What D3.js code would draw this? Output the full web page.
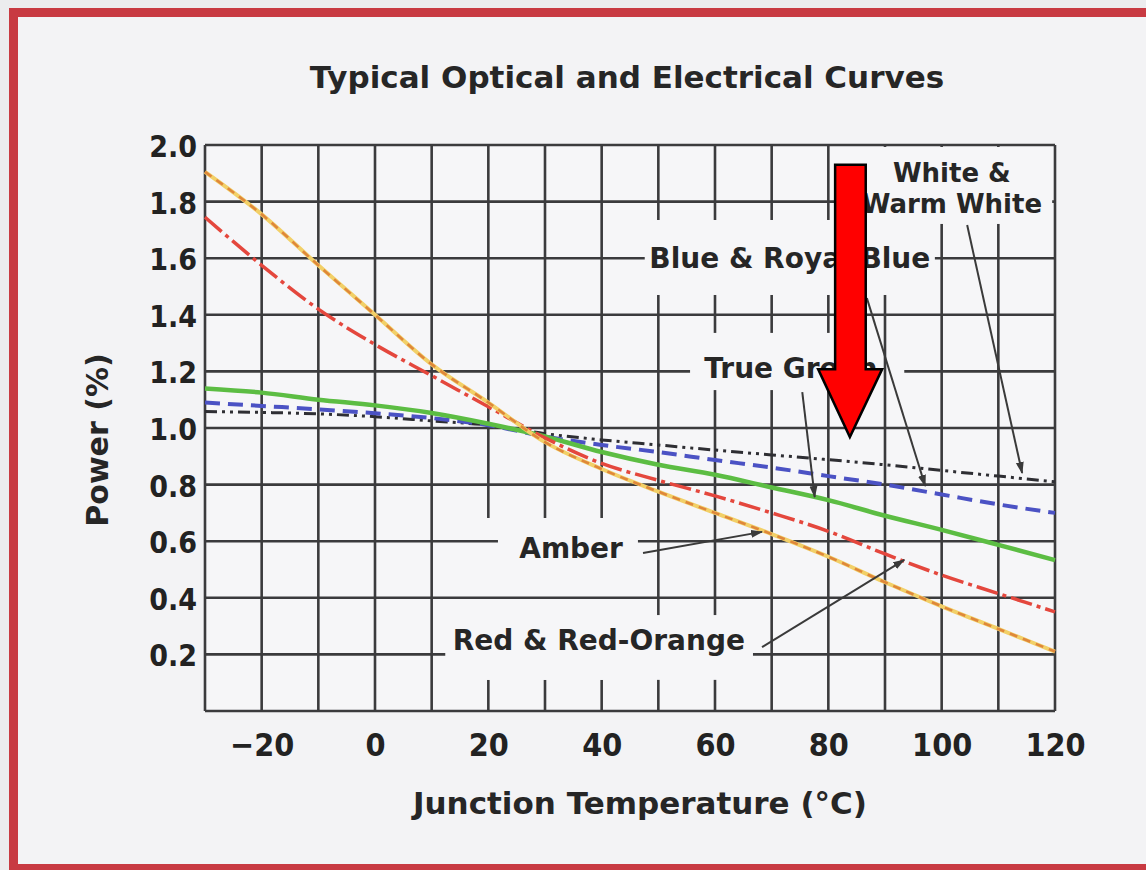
<!DOCTYPE html>
<html>
<head>
<meta charset="utf-8">
<script src="https://cdn.jsdelivr.net/npm/d3@7"></script>
<style>
  body { margin: 0; background: #f1f1f3; }
  .lbl { font-family: "DejaVu Sans", sans-serif; font-weight: bold; fill: #262626; }
  .tick text { font-family: "DejaVu Sans Condensed", "DejaVu Sans", sans-serif; font-weight: bold; fill: #222; font-stretch: condensed; }
</style>
</head>
<body>
<div id="chart"></div>
<script>
// temperatures (deg C) and relative power
var temps  = [-30, -20, -10, 0, 10, 20, 30, 40, 50, 60, 70, 80, 90, 100, 110, 120];
var amber  = [1.905, 1.755, 1.575, 1.40, 1.225, 1.09, 0.95, 0.855, 0.775, 0.70, 0.625, 0.545, 0.455, 0.37, 0.29, 0.21];
var red    = [1.745, 1.575, 1.42, 1.295, 1.185, 1.075, 0.965, 0.875, 0.815, 0.76, 0.70, 0.635, 0.555, 0.48, 0.415, 0.35];
var green  = [1.14, 1.125, 1.10, 1.08, 1.053, 1.015, 0.97, 0.915, 0.87, 0.835, 0.79, 0.745, 0.69, 0.64, 0.587, 0.533];
var blue   = [1.09, 1.078, 1.066, 1.052, 1.035, 1.01, 0.97, 0.94, 0.915, 0.887, 0.86, 0.83, 0.80, 0.765, 0.73, 0.70];
var white  = [1.058, 1.055, 1.05, 1.04, 1.025, 1.01, 0.98, 0.958, 0.94, 0.922, 0.905, 0.888, 0.87, 0.85, 0.83, 0.81];

var xTicks = [-20, 0, 20, 40, 60, 80, 100, 120];
var yTicks = [0.2, 0.4, 0.6, 0.8, 1.0, 1.2, 1.4, 1.6, 1.8, 2.0];
var xGrid  = [-30, -20, -10, 0, 10, 20, 30, 40, 50, 60, 70, 80, 90, 100, 110, 120];
var yGrid  = [0, 0.2, 0.4, 0.6, 0.8, 1.0, 1.2, 1.4, 1.6, 1.8, 2.0];

var svgWidth = 1146;
var svgHeight = 870;
var margin = {top: 145, right: 91, bottom: 159, left: 205};
var width = svgWidth - margin.left - margin.right;
var height = svgHeight - margin.top - margin.bottom;

var svg = d3.select("#chart")
  .append("svg")
  .attr("width", svgWidth)
  .attr("height", svgHeight);

// page + red frame of the scan
svg.append("rect").attr("width", svgWidth).attr("height", svgHeight).attr("fill", "#ececee");
svg.append("rect").attr("x", 14).attr("y", 12).attr("width", svgWidth).attr("height", 855).attr("fill", "#f3f3f5");
svg.append("rect").attr("x", 9).attr("y", 8).attr("width", svgWidth).attr("height", 9).attr("fill", "#c83a42");
svg.append("rect").attr("x", 9).attr("y", 8).attr("width", 9).attr("height", 862).attr("fill", "#c83a42");
svg.append("rect").attr("x", 9).attr("y", 864).attr("width", svgWidth).attr("height", 6).attr("fill", "#c83a42");

var x = d3.scaleLinear().domain([-30, 120]).range([0, width]);
var y = d3.scaleLinear().domain([0, 2]).range([height, 0]);

var g = svg.append("g").attr("transform", `translate(${margin.left}, ${margin.top})`);
g.append("rect").attr("width", width).attr("height", height).attr("fill", "#f6f6f8");

// labels with the gaps they cut in the grid (data coords)
var notes = [
  {lines: ["White &", "Warm White"], t: 101.8, p: 1.87, lh: 0.11, size: 26,
   vgap: [85.6, 119.5, 1.721, 1.993], hgap: [86.6, 119.5]},
  {lines: ["Blue & Royal Blue"], t: 73.2, p: 1.565,
   vgap: [46.8, 98.8, 1.47, 1.735], hgap: [47.6, 98.8]},
  {lines: ["True Green"], t: 73.4, p: 1.177,
   vgap: [55.6, 89.5, 1.134, 1.336], hgap: [55.6, 93.4]},
  {lines: ["Amber"], t: 34.6, p: 0.541,
   vgap: [16.8, 46.8, 0.11, 0.682], hgap: [21.7, 46.4]},
  {lines: ["Red & Red-Orange"], t: 39.5, p: 0.216,
   vgap: [11.5, 67.1, 0.11, 0.339], hgap: [12.4, 66.7]}
];
var hgapLevel = [1.8, 1.6, 1.2, 0.6, 0.2];

var defs = svg.append("defs");
var vm = defs.append("mask").attr("id", "vmask").attr("maskUnits", "userSpaceOnUse")
  .attr("x", -10).attr("y", -10).attr("width", width + 20).attr("height", height + 20);
vm.append("rect").attr("x", -10).attr("y", -10).attr("width", width + 20).attr("height", height + 20).attr("fill", "white");
notes.forEach(function(n) {
  vm.append("rect")
    .attr("x", x(n.vgap[0])).attr("width", x(n.vgap[1]) - x(n.vgap[0]))
    .attr("y", y(n.vgap[3])).attr("height", y(n.vgap[2]) - y(n.vgap[3]))
    .attr("fill", "black");
});
var hm = defs.append("mask").attr("id", "hmask").attr("maskUnits", "userSpaceOnUse")
  .attr("x", -10).attr("y", -10).attr("width", width + 20).attr("height", height + 20);
hm.append("rect").attr("x", -10).attr("y", -10).attr("width", width + 20).attr("height", height + 20).attr("fill", "white");
notes.forEach(function(n, i) {
  hm.append("rect")
    .attr("x", x(n.hgap[0])).attr("width", x(n.hgap[1]) - x(n.hgap[0]))
    .attr("y", y(hgapLevel[i]) - 6).attr("height", 12)
    .attr("fill", "black");
});

defs.append("marker").attr("id", "head")
  .attr("markerUnits", "userSpaceOnUse")
  .attr("markerWidth", 12).attr("markerHeight", 10)
  .attr("refX", 11).attr("refY", 4).attr("orient", "auto")
  .append("path").attr("d", "M0,0 L12,4 L0,8 Z").attr("fill", "#3a3a3a");

// grid
var gridColor = "#3b3b3d";
g.append("g").attr("mask", "url(#vmask)")
  .selectAll("line").data(xGrid).enter().append("line")
  .attr("x1", d => x(d)).attr("x2", d => x(d))
  .attr("y1", 0).attr("y2", height)
  .attr("stroke", gridColor).attr("stroke-width", 2.6);
g.append("g").attr("mask", "url(#hmask)")
  .selectAll("line").data(yGrid).enter().append("line")
  .attr("x1", 0).attr("x2", width)
  .attr("y1", d => y(d)).attr("y2", d => y(d))
  .attr("stroke", gridColor).attr("stroke-width", 2.6);

// axes
var bottomAxis = d3.axisBottom(x).tickValues(xTicks).tickSize(0).tickPadding(22)
  .tickFormat(d => d < 0 ? "\u2212" + Math.abs(d) : d);
var leftAxis = d3.axisLeft(y).tickValues(yTicks).tickSize(0).tickPadding(8)
  .tickFormat(d3.format(".1f"));

var xa = g.append("g").attr("transform", `translate(0, ${height})`).call(bottomAxis);
xa.select(".domain").remove();
xa.selectAll("text").attr("font-size", 32);
var ya = g.append("g").call(leftAxis);
ya.select(".domain").remove();
ya.selectAll("text").attr("font-size", 30).attr("dy", "0.38em");

// curves
var series = [
  {vals: white, color: "#2e2e33", w: 3, dash: "12,5,3,5,3,5"},
  {vals: blue,  color: "#4b52c4", w: 4, dash: "15,8"},
  {vals: green, color: "#5cbd43", w: 4.5, dash: null},
  {vals: red,   color: "#e4473d", w: 3.5, dash: "22,5,4,5"},
  {vals: amber, color: "#f2d068", w: 4, dash: null},
  {vals: amber, color: "#df873a", w: 2.6, dash: "8,6"}
];
var line = d3.line()
  .x((d, i) => x(temps[i]))
  .y(d => y(d))
  .curve(d3.curveMonotoneX);

g.selectAll(".curve").data(series).enter().append("path")
  .attr("class", "curve")
  .attr("d", d => line(d.vals))
  .attr("fill", "none")
  .attr("stroke", d => d.color)
  .attr("stroke-width", d => d.w)
  .attr("stroke-dasharray", d => d.dash);

// leader lines (data coords, from label to curve)
var leaders = [
  [47.3, 0.558, 68.3, 0.633],
  [68.3, 0.226, 93.4, 0.534],
  [75.4, 1.127, 77.6, 0.756],
  [86.8, 1.459, 97.1, 0.795],
  [104.5, 1.717, 114.2, 0.841]
];
g.selectAll(".leader").data(leaders).enter().append("line")
  .attr("class", "leader")
  .attr("x1", d => x(d[0])).attr("y1", d => y(d[1]))
  .attr("x2", d => x(d[2])).attr("y2", d => y(d[3]))
  .attr("stroke", "#3a3a3a").attr("stroke-width", 2)
  .attr("marker-end", "url(#head)");

// curve labels
notes.forEach(function(n) {
  n.lines.forEach(function(s, k) {
    g.append("text").attr("class", "lbl")
      .attr("x", x(n.t)).attr("y", y(n.p - k * (n.lh || 0)))
      .attr("text-anchor", "middle")
      .attr("font-size", n.size || 28)
      .text(s);
  });
});

// big red arrow drawn over the scan
var arrow = [[81.2, 1.93], [86.6, 1.93], [86.6, 1.208], [89.5, 1.208], [83.8, 0.968],
             [78.2, 1.208], [81.2, 1.208]];
g.append("path")
  .attr("d", d3.line().x(d => x(d[0])).y(d => y(d[1]))(arrow) + "Z")
  .attr("fill", "#ff0000").attr("stroke", "#000").attr("stroke-width", 2.5)
  .attr("stroke-linejoin", "miter");

// titles
svg.append("text").attr("class", "lbl")
  .attr("x", 627).attr("y", 88)
  .attr("text-anchor", "middle").attr("font-size", 31)
  .text("Typical Optical and Electrical Curves");

svg.append("text").attr("class", "lbl")
  .attr("x", 640).attr("y", 814)
  .attr("text-anchor", "middle").attr("font-size", 31)
  .text("Junction Temperature (°C)");

svg.append("text").attr("class", "lbl")
  .attr("transform", "rotate(-90)")
  .attr("x", -440).attr("y", 108)
  .attr("text-anchor", "middle").attr("font-size", 30)
  .text("Power (%)");
</script>
</body>
</html>
